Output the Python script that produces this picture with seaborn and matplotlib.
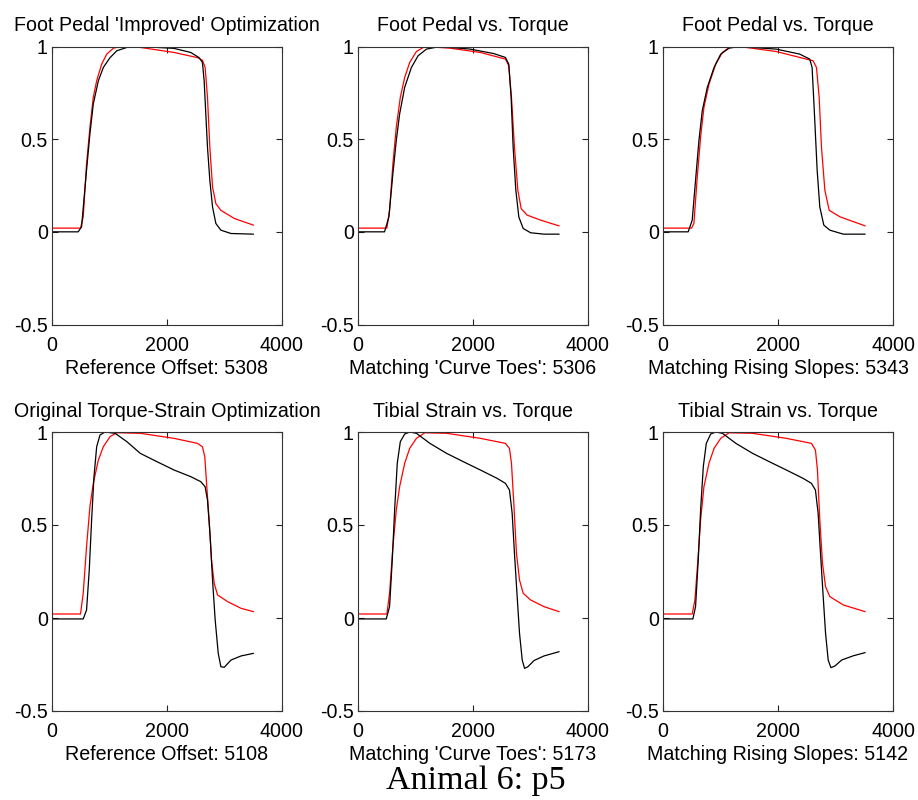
import matplotlib
matplotlib.use("Agg")
import matplotlib.pyplot as plt
import seaborn as sns
import numpy as np

# ---------------- data ----------------
titles = ["Foot Pedal 'Improved' Optimization", "Foot Pedal vs. Torque", "Foot Pedal vs. Torque",
          "Original Torque-Strain Optimization", "Tibial Strain vs. Torque", "Tibial Strain vs. Torque"]
xlabels = ["Reference Offset: 5308", "Matching 'Curve Toes': 5306", "Matching Rising Slopes: 5343",
           "Reference Offset: 5108", "Matching 'Curve Toes': 5173", "Matching Rising Slopes: 5142"]
suptitle = "Animal 6: p5"
xticks = [0, 2000, 4000]
xticklabels = ["0", "2000", "4000"]
yticks = [-0.5, 0, 0.5, 1]
yticklabels = ["-0.5", "0", "0.5", "1"]

# Panel 1
p1_black_x = [0, 455, 514, 600, 660, 718, 806, 893, 1010, 1127, 1302, 1536, 2120, 2412, 2558, 2616, 2646, 2675, 2704, 2745, 2792, 2850, 2937, 3113, 3504]
p1_black_y = [0, 0, 0.027, 0.33, 0.53, 0.69, 0.815, 0.887, 0.94, 0.977, 0.995, 1.0, 0.99, 0.968, 0.94, 0.914, 0.815, 0.636, 0.457, 0.278, 0.134, 0.045, 0.009, -0.009, -0.0125]
p1_red_x = [0, 496, 543, 601, 660, 718, 777, 864, 952, 1069, 1186, 1536, 2120, 2529, 2616, 2663, 2704, 2745, 2792, 2850, 2937, 3171, 3504]
p1_red_y = [0.02, 0.02, 0.08, 0.367, 0.565, 0.726, 0.815, 0.905, 0.959, 0.991, 1.0, 0.995, 0.968, 0.94, 0.926, 0.887, 0.726, 0.457, 0.242, 0.152, 0.116, 0.072, 0.036]

# Panel 2
p2_black_x = [0, 461, 537, 607, 666, 724, 812, 929, 1045, 1191, 1425, 1950, 2359, 2564, 2622, 2663, 2698, 2745, 2797, 2873, 3002, 3235, 3498]
p2_black_y = [0, 0, 0.08, 0.314, 0.493, 0.636, 0.78, 0.887, 0.95, 0.986, 1.0, 0.986, 0.962, 0.941, 0.905, 0.726, 0.457, 0.224, 0.08, 0.018, -0.005, -0.0125, -0.0125]
p2_red_x = [0, 502, 549, 607, 666, 736, 812, 899, 1016, 1162, 1600, 2126, 2564, 2622, 2669, 2721, 2780, 2838, 2943, 3177, 3498]
p2_red_y = [0.02, 0.02, 0.116, 0.367, 0.565, 0.726, 0.833, 0.914, 0.973, 1.0, 0.991, 0.968, 0.932, 0.896, 0.726, 0.457, 0.224, 0.125, 0.09, 0.063, 0.032]

# Panel 3
p3_black_x = [0, 438, 508, 566, 625, 683, 771, 888, 1004, 1150, 1326, 1968, 2377, 2552, 2593, 2634, 2681, 2727, 2797, 2902, 3136, 3516]
p3_black_y = [0, 0, 0.063, 0.278, 0.493, 0.654, 0.78, 0.887, 0.959, 0.991, 1.0, 0.986, 0.959, 0.932, 0.887, 0.636, 0.332, 0.134, 0.036, 0.009, -0.0125, -0.0125]
p3_red_x = [0, 496, 537, 596, 654, 712, 800, 917, 1034, 1150, 1326, 1968, 2610, 2669, 2716, 2756, 2815, 2891, 3078, 3516]
p3_red_y = [0.02, 0.02, 0.045, 0.296, 0.511, 0.672, 0.797, 0.905, 0.968, 0.995, 1.0, 0.973, 0.923, 0.887, 0.726, 0.457, 0.224, 0.116, 0.081, 0.032]

# Panel 4
p4_black_x = [0, 543, 601, 648, 689, 730, 777, 835, 923, 1098, 1302, 1536, 1828, 2120, 2412, 2587, 2663, 2704, 2751, 2792, 2838, 2891, 2937, 2996, 3113, 3288, 3504]
p4_black_y = [-0.005, -0.005, 0.043, 0.258, 0.527, 0.76, 0.921, 0.984, 1.0, 0.993, 0.948, 0.885, 0.84, 0.796, 0.76, 0.733, 0.706, 0.634, 0.437, 0.204, -0.011, -0.19, -0.262, -0.265, -0.226, -0.204, -0.19]
p4_red_x = [0, 496, 543, 601, 660, 718, 806, 893, 1010, 1127, 1536, 2120, 2529, 2616, 2657, 2692, 2733, 2774, 2821, 2879, 3054, 3288, 3504]
p4_red_y = [0.0215, 0.0215, 0.133, 0.384, 0.6, 0.724, 0.849, 0.921, 0.975, 0.996, 0.993, 0.966, 0.939, 0.921, 0.867, 0.706, 0.527, 0.312, 0.186, 0.124, 0.088, 0.052, 0.034]

# Panel 5
p5_black_x = [0, 491, 549, 596, 637, 683, 736, 812, 899, 1016, 1250, 1542, 1834, 2126, 2418, 2564, 2634, 2681, 2721, 2768, 2809, 2856, 2897, 2955, 3060, 3235, 3498]
p5_black_y = [-0.005, -0.005, 0.061, 0.312, 0.581, 0.832, 0.948, 0.989, 1.0, 0.993, 0.939, 0.885, 0.84, 0.796, 0.751, 0.724, 0.688, 0.563, 0.348, 0.115, -0.082, -0.226, -0.271, -0.262, -0.229, -0.204, -0.181]
p5_red_x = [0, 502, 549, 607, 666, 724, 812, 899, 1016, 1162, 1542, 2126, 2564, 2634, 2669, 2710, 2756, 2809, 2873, 3002, 3235, 3498]
p5_red_y = [0.0215, 0.0215, 0.133, 0.384, 0.581, 0.706, 0.832, 0.912, 0.966, 0.996, 0.993, 0.966, 0.939, 0.912, 0.832, 0.616, 0.348, 0.204, 0.133, 0.097, 0.061, 0.034]

# Panel 6
p6_black_x = [0, 520, 566, 613, 654, 701, 753, 829, 917, 1034, 1267, 1559, 1851, 2143, 2435, 2581, 2651, 2698, 2739, 2786, 2827, 2873, 2920, 2990, 3107, 3311, 3516]
p6_black_y = [-0.005, -0.005, 0.061, 0.312, 0.581, 0.814, 0.939, 0.989, 1.0, 0.993, 0.939, 0.885, 0.84, 0.796, 0.751, 0.724, 0.688, 0.563, 0.348, 0.115, -0.082, -0.226, -0.267, -0.258, -0.226, -0.203, -0.186]
p6_red_x = [0, 508, 555, 607, 654, 712, 800, 888, 1004, 1150, 1559, 2143, 2581, 2651, 2686, 2727, 2774, 2827, 2902, 3136, 3516]
p6_red_y = [0.0215, 0.0215, 0.097, 0.312, 0.527, 0.706, 0.832, 0.912, 0.966, 0.996, 0.993, 0.966, 0.939, 0.903, 0.796, 0.527, 0.294, 0.168, 0.115, 0.07, 0.034]

black_x = [p1_black_x, p2_black_x, p3_black_x, p4_black_x, p5_black_x, p6_black_x]
black_y = [p1_black_y, p2_black_y, p3_black_y, p4_black_y, p5_black_y, p6_black_y]
red_x = [p1_red_x, p2_red_x, p3_red_x, p4_red_x, p5_red_x, p6_red_x]
red_y = [p1_red_y, p2_red_y, p3_red_y, p4_red_y, p5_red_y, p6_red_y]

# ---------------- style ----------------
sns.set_theme(style="white")
plt.rcParams['font.family'] = ['Liberation Sans', 'DejaVu Sans']
plt.rcParams['axes.unicode_minus'] = False
FS = 14.1

fig = plt.figure(figsize=(9.18, 8.0), dpi=100)
W, H = 918.0, 800.0
lefts = [52, 358, 663]
rows = [(46.5, 324.5), (432, 711)]
axw = 230

for i in range(6):
    r, c = divmod(i, 3)
    top, bot = rows[r]
    ax = fig.add_axes([lefts[c] / W, 1 - bot / H, axw / W, (bot - top) / H])
    sns.lineplot(x=red_x[i], y=red_y[i], ax=ax, color="#ff0000", lw=0.9, sort=False, estimator=None)
    sns.lineplot(x=black_x[i], y=black_y[i], ax=ax, color="#000000", lw=0.9, sort=False, estimator=None)
    ax.set_xlim(0, 4000)
    ax.set_ylim(-0.5, 1)
    ax.set_xticks(xticks)
    ax.set_xticklabels(xticklabels)
    ax.set_yticks(yticks)
    ax.set_yticklabels(yticklabels)
    ax.tick_params(direction="in", length=4, width=0.8, color="#222222",
                   top=True, right=True, bottom=True, left=True,
                   labelsize=FS, labelcolor="black", pad=8)
    ax.tick_params(axis="y", pad=3)
    for s in ax.spines.values():
        s.set_visible(True)
        s.set_color("#333333")
        s.set_linewidth(0.8)
    ax.set_title(titles[i], fontsize=FS, color="black", pad=11)
    ax.set_xlabel(xlabels[i], fontsize=FS, color="black", labelpad=3)
    ax.set_ylabel("")

fig.text(476 / W, 1 - 781 / H, suptitle, ha="center", va="center",
         fontsize=24.5, family=["Liberation Serif", "DejaVu Serif"], color="black")

fig.savefig("out.png", dpi=100, facecolor="white")
